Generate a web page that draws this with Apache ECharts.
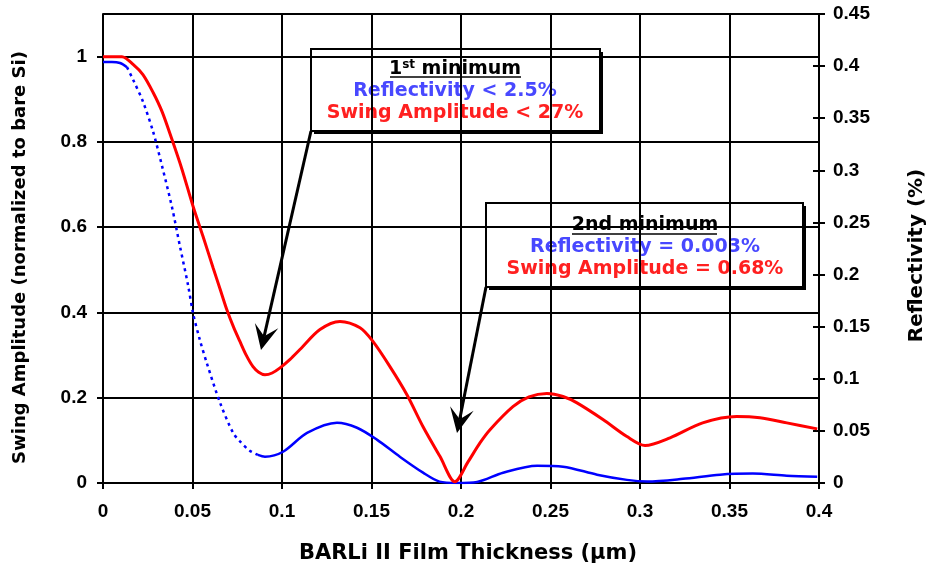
<!DOCTYPE html>
<html>
<head>
<meta charset="utf-8">
<script src="https://cdn.jsdelivr.net/npm/echarts@6/dist/echarts.min.js"></script>
<style>
  html, body { margin: 0; padding: 0; background: #fff; }
  #chart { width: 926px; height: 564px; }
</style>
</head>
<body>
<div id="chart"></div>
<script>
// film thickness (um) vs swing amplitude (left axis)
const swingX = [0, 0.005, 0.0106, 0.0168, 0.0223, 0.028, 0.033, 0.0385, 0.0441, 0.0503, 0.0559, 0.0615, 0.0654, 0.0693, 0.073, 0.0765, 0.080, 0.0838, 0.087, 0.0905, 0.0945, 0.0989, 0.1045, 0.110, 0.1212, 0.1324, 0.1436, 0.1508, 0.1603, 0.1698, 0.1788, 0.1883, 0.1966, 0.204, 0.2106, 0.2162, 0.229, 0.238, 0.248, 0.257, 0.2648, 0.2793, 0.2927, 0.3028, 0.3168, 0.335, 0.354, 0.367, 0.382, 0.399]
const swingVal = [1.0, 1.0, 1.0, 0.982, 0.958, 0.916, 0.871, 0.806, 0.736, 0.649, 0.578, 0.505, 0.455, 0.405, 0.365, 0.332, 0.300, 0.273, 0.260, 0.254, 0.258, 0.27, 0.29, 0.313, 0.36, 0.379, 0.364, 0.332, 0.273, 0.207, 0.132, 0.062, 0.003, 0.05, 0.094, 0.125, 0.179, 0.202, 0.21, 0.203, 0.188, 0.149, 0.109, 0.088, 0.106, 0.141, 0.156, 0.153, 0.141, 0.127]

// film thickness (um) vs reflectivity (right axis)
const reflX = [0, 0.005, 0.0095, 0.0134, 0.0168, 0.0223, 0.028, 0.033, 0.0385, 0.043, 0.0475, 0.0503, 0.054, 0.058, 0.0654, 0.0727, 0.0765, 0.082, 0.0865, 0.0905, 0.1006, 0.114, 0.1307, 0.1419, 0.153, 0.166, 0.1788, 0.188, 0.1978, 0.209, 0.2235, 0.2425, 0.257, 0.276, 0.2927, 0.304, 0.324, 0.3447, 0.363, 0.382, 0.399]
const reflVal = [0.404, 0.404, 0.403, 0.399, 0.387, 0.366, 0.337, 0.304, 0.265, 0.227, 0.19, 0.163, 0.138, 0.115, 0.077, 0.048, 0.040, 0.031, 0.027, 0.0253, 0.030, 0.048, 0.0578, 0.053, 0.0416, 0.025, 0.0099, 0.0013, 0.0, 0.001, 0.0099, 0.0166, 0.0157, 0.008, 0.003, 0.0015, 0.004, 0.008, 0.009, 0.007, 0.006]

// the steep part of the reflectivity curve is drawn dotted
const dottedFrom = 0.0134
const dottedTo = 0.0865

const xTitle = 'BARLi II Film Thickness (µm)'
const leftTitle = 'Swing Amplitude (normalized to bare Si)'
const rightTitle = 'Reflectivity (%)'

const tickFont = { color: '#000', fontFamily: 'Liberation Sans', fontWeight: 'bold', fontSize: 19 }
const titleFont = { color: '#000', fontFamily: 'DejaVu Sans', fontWeight: 'bold' }
const noteFont = { fontFamily: 'DejaVu Sans', fontWeight: 'bold', fontSize: 19 }
const BLUE_TEXT = '#4848ff'
const RED_TEXT = '#ff2020'

const pairs = (xs, ys) => xs.map((x, i) => [x, ys[i]])
const swingData = pairs(swingX, swingVal)
const reflData = pairs(reflX, reflVal)
const reflStart = reflData.filter(d => d[0] <= dottedFrom)
const reflDotted = reflData.filter(d => d[0] >= dottedFrom && d[0] <= dottedTo)
const reflEnd = reflData.filter(d => d[0] >= dottedTo)

const arrow = (x0, y0, x1, y1) => {
  const len = Math.hypot(x1 - x0, y1 - y0)
  const dx = (x1 - x0) / len, dy = (y1 - y0) / len
  const nx = -dy, ny = dx
  const L = 25, W = 12, notch = 14
  return [
    {
      type: 'line',
      shape: { x1: x0, y1: y0, x2: x1 - dx * notch, y2: y1 - dy * notch },
      style: { stroke: '#000', lineWidth: 3 }
    },
    {
      type: 'polygon',
      shape: {
        points: [
          [x1, y1],
          [x1 - dx * L + nx * W, y1 - dy * L + ny * W],
          [x1 - dx * notch, y1 - dy * notch],
          [x1 - dx * L - nx * W, y1 - dy * L - ny * W]
        ]
      },
      style: { fill: '#000' }
    }
  ]
}

const noteBox = (x, y, w, h) => [
  { type: 'rect', shape: { x: x + 3, y: y + 3, width: w, height: h }, style: { fill: '#000' } },
  { type: 'rect', shape: { x: x, y: y, width: w, height: h }, style: { fill: '#fff', stroke: '#000', lineWidth: 2 } }
]

const noteLine = (x, y, text, color, rich) => ({
  type: 'text',
  x: x,
  y: y,
  style: Object.assign({ text: text, fill: color, align: 'center', verticalAlign: 'middle', rich: rich }, noteFont)
})

const chart = echarts.init(document.getElementById('chart'))

const option = {
  animation: false,
  backgroundColor: '#fff',
  grid: { left: 103, right: 107, top: 14, bottom: 81, outerBoundsMode: 'none' },
  xAxis: {
    type: 'value',
    min: 0,
    max: 0.4,
    interval: 0.05,
    name: xTitle,
    nameLocation: 'middle',
    nameGap: 60,
    nameTextStyle: Object.assign({ fontSize: 21, padding: [0, 0, 0, 14] }, titleFont),
    axisLine: { lineStyle: { color: '#000', width: 2 } },
    axisTick: { length: 6, lineStyle: { color: '#000', width: 2 } },
    axisLabel: Object.assign({ margin: 19 }, tickFont),
    splitLine: { lineStyle: { color: '#000', width: 2 } }
  },
  yAxis: [
    {
      type: 'value',
      min: 0,
      max: 1.1,
      interval: 0.2,
      name: leftTitle,
      nameLocation: 'middle',
      nameRotate: 90,
      nameGap: 74,
      nameTextStyle: Object.assign({ fontSize: 18, padding: [0, 18, 0, 0] }, titleFont),
      axisLine: { show: true, lineStyle: { color: '#000', width: 2 } },
      axisTick: { show: true, length: 6, lineStyle: { color: '#000', width: 2 } },
      axisLabel: Object.assign({ margin: 16, showMaxLabel: false }, tickFont),
      splitLine: { lineStyle: { color: '#000', width: 2 } }
    },
    {
      type: 'value',
      position: 'right',
      min: 0,
      max: 0.45,
      interval: 0.05,
      name: rightTitle,
      nameLocation: 'middle',
      nameRotate: 90,
      nameGap: 88,
      nameTextStyle: Object.assign({ fontSize: 20, padding: [0, 14, 0, 0] }, titleFont),
      axisLine: { show: true, lineStyle: { color: '#000', width: 2 } },
      axisTick: { show: true, length: 6, lineStyle: { color: '#000', width: 2 } },
      axisLabel: Object.assign({ margin: 14 }, tickFont),
      splitLine: { show: false }
    },
    {
      // inner half of the crossing ticks on the right axis
      type: 'value',
      position: 'right',
      min: 0,
      max: 0.45,
      interval: 0.05,
      axisLine: { show: false },
      axisTick: { show: true, inside: true, length: 6, lineStyle: { color: '#000', width: 2 } },
      axisLabel: { show: false },
      splitLine: { show: false }
    }
  ],
  series: [
    {
      name: 'Reflectivity',
      type: 'line',
      yAxisIndex: 1,
      data: reflStart,
      showSymbol: false,
      smooth: 0.3,
      lineStyle: { color: '#0000ff', width: 2.5 },
      z: 3
    },
    {
      name: 'Reflectivity',
      type: 'line',
      yAxisIndex: 1,
      data: reflDotted,
      showSymbol: false,
      smooth: 0.3,
      lineStyle: { color: '#0000ff', width: 2.5, type: [3, 4] },
      z: 3
    },
    {
      name: 'Reflectivity',
      type: 'line',
      yAxisIndex: 1,
      data: reflEnd,
      showSymbol: false,
      smooth: 0.3,
      lineStyle: { color: '#0000ff', width: 2.5 },
      z: 3
    },
    {
      name: 'Swing Amplitude',
      type: 'line',
      yAxisIndex: 0,
      data: swingData,
      showSymbol: false,
      smooth: 0.3,
      lineStyle: { color: '#ff0000', width: 3 },
      z: 4
    }
  ],
  graphic: [
    ...arrow(311, 131, 261, 350),
    ...arrow(486, 287, 457, 433),
    ...noteBox(311, 49, 289, 82),
    noteLine(455, 69, '1{sup|st} minimum', '#000', {
      sup: { fontFamily: 'DejaVu Sans', fontWeight: 'bold', fontSize: 12, fill: '#000', padding: [0, 0, 9, 0] }
    }),
    { type: 'line', shape: { x1: 390, y1: 77, x2: 521, y2: 77 }, style: { stroke: '#000', lineWidth: 1.5 } },
    noteLine(455, 91, 'Reflectivity < 2.5%', BLUE_TEXT),
    noteLine(455, 113, 'Swing Amplitude < 27%', RED_TEXT),
    ...noteBox(486, 203, 317, 84),
    noteLine(645, 225, '2nd minimum', '#000'),
    { type: 'line', shape: { x1: 572, y1: 234, x2: 717, y2: 234 }, style: { stroke: '#000', lineWidth: 1.5 } },
    noteLine(645, 247, 'Reflectivity = 0.003%', BLUE_TEXT),
    noteLine(645, 269, 'Swing Amplitude = 0.68%', RED_TEXT)
  ]
}

chart.setOption(option)
window.addEventListener('resize', () => chart.resize())
</script>
</body>
</html>
